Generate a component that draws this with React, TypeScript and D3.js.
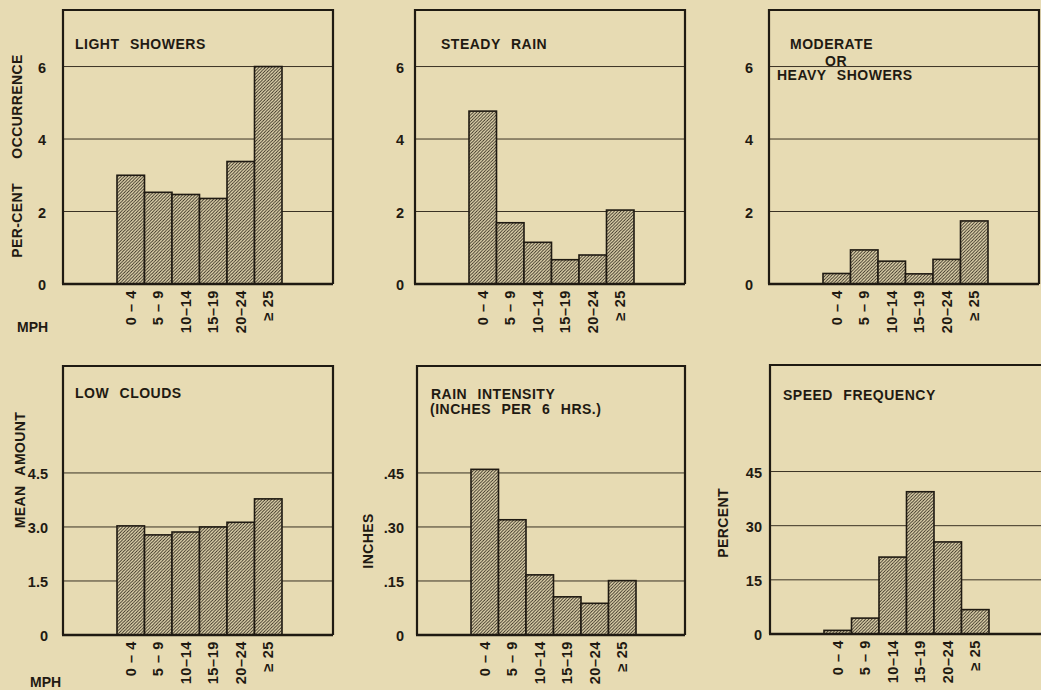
import React from "react";
import * as d3 from "d3";

const categories = ["0 – 4", "5 – 9", "10–14", "15–19", "20–24", "≥ 25"];

const lightShowers = [3.0, 2.53, 2.47, 2.36, 3.38, 6.0];
const steadyRain = [4.77, 1.69, 1.15, 0.67, 0.8, 2.04];
const heavyShowers = [0.29, 0.94, 0.63, 0.28, 0.68, 1.74];
const lowClouds = [3.03, 2.78, 2.86, 3.0, 3.13, 3.78];
const rainIntensity = [0.46, 0.32, 0.167, 0.106, 0.088, 0.151];
const speedFrequency = [1.0, 4.4, 21.3, 39.4, 25.5, 6.75];

const percentTicks = [0, 2, 4, 6];
const percentTickLabels = ["0", "2", "4", "6"];
const cloudTicks = [0, 1.5, 3.0, 4.5];
const cloudTickLabels = ["0", "1.5", "3.0", "4.5"];
const inchTicks = [0, 0.15, 0.3, 0.45];
const inchTickLabels = ["0", ".15", ".30", ".45"];
const freqTicks = [0, 15, 30, 45];
const freqTickLabels = ["0", "15", "30", "45"];

const BG = "#e7dbb3";
const INK = "#1f1a12";
const FONT = "'Liberation Sans', Arial, sans-serif";

type Panel = {
  values: number[];
  ticks: number[];
  tickLabels: string[];
  yMax: number;
  left: number;
  right: number;
  top: number;
  bottom: number;
  title: { text: string; dx: number; y: number }[];
  yLabel?: { text: string; x: number; y: number; ws: number };
  tickDx: number;
  mph?: { x: number; y: number };
};

const panels: Panel[] = [
  {
    values: lightShowers, ticks: percentTicks, tickLabels: percentTickLabels, yMax: 7.56,
    left: 63, right: 333, top: 10, bottom: 284,
    title: [{ text: "LIGHT SHOWERS", dx: 12, y: 49 }],
    yLabel: { text: "PER-CENT OCCURRENCE", x: 17, y: 156, ws: 20 },
    tickDx: 17, mph: { x: 17, y: 332 },
  },
  {
    values: steadyRain, ticks: percentTicks, tickLabels: percentTickLabels, yMax: 7.56,
    left: 415, right: 685, top: 10, bottom: 284,
    title: [{ text: "STEADY RAIN", dx: 26, y: 49 }],
    tickDx: 11,
  },
  {
    values: heavyShowers, ticks: percentTicks, tickLabels: percentTickLabels, yMax: 7.56,
    left: 769, right: 1039, top: 10, bottom: 284,
    title: [
      { text: "MODERATE", dx: 21, y: 49 },
      { text: "OR", dx: 56, y: 66 },
      { text: "HEAVY SHOWERS", dx: 8, y: 80 },
    ],
    tickDx: 16,
  },
  {
    values: lowClouds, ticks: cloudTicks, tickLabels: cloudTickLabels, yMax: 7.47,
    left: 63, right: 333, top: 366, bottom: 635,
    title: [{ text: "LOW CLOUDS", dx: 12, y: 398 }],
    yLabel: { text: "MEAN AMOUNT", x: 20, y: 470, ws: 6 },
    tickDx: 15, mph: { x: 30, y: 687 },
  },
  {
    values: rainIntensity, ticks: inchTicks, tickLabels: inchTickLabels, yMax: 0.747,
    left: 417, right: 685, top: 366, bottom: 635,
    title: [
      { text: "RAIN INTENSITY", dx: 14, y: 399 },
      { text: "(INCHES PER 6 HRS.)", dx: 13, y: 414 },
    ],
    yLabel: { text: "INCHES", x: 368, y: 541, ws: 0 },
    tickDx: 13,
  },
  {
    values: speedFrequency, ticks: freqTicks, tickLabels: freqTickLabels, yMax: 74.5,
    left: 770, right: 1043, top: 365, bottom: 634,
    title: [{ text: "SPEED FREQUENCY", dx: 13, y: 400 }],
    yLabel: { text: "PERCENT", x: 723, y: 523, ws: 0 },
    tickDx: 8,
  },
];

function PanelView({ p }: { p: Panel }) {
  const y = d3.scaleLinear().domain([0, p.yMax]).range([p.bottom, p.top]);
  const x = d3
    .scaleBand<string>()
    .domain(categories)
    .range([p.left + 54, p.left + 219])
    .paddingInner(0)
    .paddingOuter(0);
  const bw = x.bandwidth();
  return (
    <g>
      {p.ticks.filter((t) => t > 0).map((t) => (
        <line key={t} x1={p.left} x2={p.right} y1={y(t)} y2={y(t)} stroke="#3a3224" strokeWidth={1} />
      ))}
      {p.values.map((v, i) => (
        <rect
          key={i}
          x={x(categories[i])!}
          y={y(v)}
          width={bw}
          height={p.bottom - y(v)}
          fill="url(#hatch)"
          stroke={INK}
          strokeWidth={1.6}
        />
      ))}
      <path
        d={`M${p.left},${p.bottom} V${p.top} H${p.right} V${p.bottom}`}
        fill="none"
        stroke={INK}
        strokeWidth={2.2}
      />
      <line x1={p.left - 1} x2={p.right} y1={p.bottom} y2={p.bottom} stroke={INK} strokeWidth={2.6} />
      {p.ticks.map((t, i) => (
        <text
          key={t}
          x={p.left - p.tickDx}
          y={y(t) + 1}
          textAnchor="end"
          dominantBaseline="central"
          fontSize={14.5}
          fontWeight="bold"
          fill={INK}
        >
          {p.tickLabels[i]}
        </text>
      ))}
      {categories.map((c) => {
        const cx = x(c)! + bw / 2;
        const ty = p.bottom + 6;
        return (
          <text
            key={c}
            transform={`translate(${cx},${ty}) rotate(-90)`}
            textAnchor="end"
            dominantBaseline="central"
            fontSize={14.5}
            fontWeight="bold"
            letterSpacing={0.6}
            fill={INK}
          >
            {c}
          </text>
        );
      })}
      {p.title.map((t, i) => (
        <text
          key={i}
          x={p.left + t.dx}
          y={t.y}
          fontSize={14}
          fontWeight="bold"
          letterSpacing={0.5}
          wordSpacing={6}
          fill={INK}
        >
          {t.text}
        </text>
      ))}
      {p.yLabel && (
        <text
          transform={`translate(${p.yLabel.x},${p.yLabel.y}) rotate(-90)`}
          textAnchor="middle"
          dominantBaseline="central"
          fontSize={14}
          fontWeight="bold"
          letterSpacing={0.4}
          wordSpacing={p.yLabel.ws}
          fill={INK}
        >
          {p.yLabel.text}
        </text>
      )}
      {p.mph && (
        <text x={p.mph.x} y={p.mph.y} fontSize={14} fontWeight="bold" fill={INK}>
          MPH
        </text>
      )}
    </g>
  );
}

export default function App() {
  return (
    <svg
      width={1041}
      height={690}
      style={{ position: "fixed", left: 0, top: 0, background: BG, fontFamily: FONT }}
    >
      <defs>
        <pattern id="hatch" patternUnits="userSpaceOnUse" width={3.2} height={3.2}>
          <rect width={3.2} height={3.2} fill={BG} />
          <path d="M-0.8,0.8 L0.8,-0.8 M0,3.2 L3.2,0 M2.4,4 L4,2.4" stroke="#2b2419" strokeWidth={0.9} />
        </pattern>
      </defs>
      <rect width={1041} height={690} fill={BG} />
      {panels.map((p, i) => (
        <PanelView key={i} p={p} />
      ))}
    </svg>
  );
}
